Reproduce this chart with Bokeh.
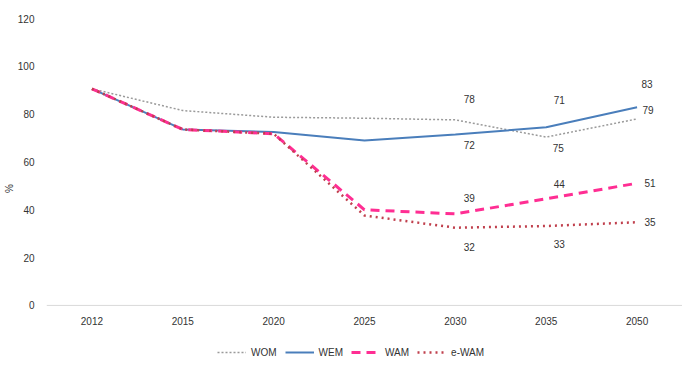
from bokeh.plotting import figure
from bokeh.models import Legend, LegendItem, ColumnDataSource, FactorRange, FixedTicker, Span
from bokeh.embed import file_html
from bokeh.resources import INLINE
from bokeh.core.properties import value

# ---- data ----
years = ["2012", "2015", "2020", "2025", "2030", "2035", "2050"]
wom = [90.6, 81.5, 78.7, 78.3, 77.6, 70.4, 78.0]
wem = [90.6, 73.6, 72.5, 69.0, 71.5, 74.5, 82.9]
wam = [90.6, 73.6, 71.8, 40.0, 38.3, 44.6, 51.1]
ewam = [90.6, 73.6, 71.8, 37.6, 32.5, 33.2, 34.8]
y_ticks = [0, 20, 40, 60, 80, 100, 120]

label_years = ["2030", "2035", "2050"]
wom_labels = ["78", "71", "79"]
wem_labels = ["72", "75", "83"]
wam_labels = ["39", "44", "51"]
ewam_labels = ["32", "33", "35"]

FONT = "Liberation Sans"
FS = "10px"
TXT = "#333333"

# frame extends below 0 so that the x labels and legend live inside it
p = figure(frame_width=636, frame_height=340,
           x_range=FactorRange(*years), y_range=(-22.2, 120),
           x_axis_location=None,
           output_backend="svg", toolbar_location=None,
           min_border_left=46, min_border_right=0, min_border_top=18, min_border_bottom=0)
p.outline_line_color = None
p.xgrid.visible = False
p.ygrid.visible = False

p.yaxis.ticker = FixedTicker(ticks=y_ticks)
p.yaxis.axis_line_color = None
p.yaxis.major_tick_line_color = None
p.yaxis.minor_tick_line_color = None
p.yaxis.axis_label = "%"
p.yaxis.axis_label_text_font_style = "normal"
p.yaxis.axis_label_text_font = FONT
p.yaxis.axis_label_text_font_size = FS
p.yaxis.axis_label_text_color = TXT
p.yaxis.axis_label_standoff = 0
p.yaxis.major_label_standoff = 6
p.yaxis.major_label_text_font = FONT
p.yaxis.major_label_text_font_size = FS
p.yaxis.major_label_text_color = TXT

# x axis baseline and category labels
p.add_layout(Span(location=0, dimension="width", line_color="#d9d9d9", line_width=1))
p.text(x=years, y=[0] * len(years), text=years, y_offset=16,
       text_font=value(FONT), text_font_size=FS, text_color=TXT,
       text_align="center", text_baseline="middle")

r_wom = p.line(years, wom, line_color="#9a9a9a", line_width=1.5, line_dash="2 2")
r_wem = p.line(years, wem, line_color="#4a7ebb", line_width=2)
r_wam = p.line(years, wam, line_color="#ff2e93", line_width=3, line_dash="9 6")
r_ewam = p.line(years, ewam, line_color="#c0404d", line_width=2.5, line_dash="2 4")

# data labels
def add_labels(vals, labels, y_offsets, x_offsets):
    ys = [vals[years.index(y)] for y in label_years]
    src = ColumnDataSource(dict(x=label_years, y=ys, t=labels, yo=y_offsets, xo=x_offsets))
    p.text(x="x", y="y", text="t", source=src, x_offset="xo", y_offset="yo",
           text_font=value(FONT), text_font_size=FS, text_color=TXT,
           text_align="center", text_baseline="middle")

add_labels(wom, wom_labels, [-21, -37, -9], [14, 13, 11])
add_labels(wem, wem_labels, [11, 21, -23], [14, 12, 10])
add_labels(wam, wam_labels, [-16, -15, 0], [14, 13, 13])
add_labels(ewam, ewam_labels, [19, 18, 0], [14, 13, 13])

legend = Legend(items=[LegendItem(label="WOM", renderers=[r_wom]),
                       LegendItem(label="WEM", renderers=[r_wem]),
                       LegendItem(label="WAM", renderers=[r_wam]),
                       LegendItem(label="e-WAM", renderers=[r_ewam])],
                orientation="horizontal", location=(171, 0))
legend.label_text_font = FONT
legend.label_text_font_size = FS
legend.label_text_color = TXT
legend.glyph_width = 29
legend.glyph_height = 12
legend.label_standoff = 5
legend.spacing = 8
legend.border_line_color = None
legend.background_fill_alpha = 0
legend.margin = 0
legend.padding = 0
p.add_layout(legend, "center")

open("out.html", "w").write(file_html(p, INLINE))
